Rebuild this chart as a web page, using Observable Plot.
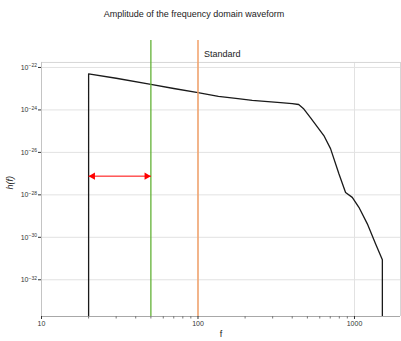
<!DOCTYPE html>
<html><head><meta charset="utf-8">
<script src="https://cdn.jsdelivr.net/npm/d3@7"></script>
<script src="https://cdn.jsdelivr.net/npm/@observablehq/plot@0.6"></script>
<style>
body{margin:0;background:#fff;font-family:"Liberation Sans",Arial,sans-serif;}
#title{position:relative;height:30px;}
#title span{position:absolute;left:0;width:388px;text-align:center;top:10px;font-size:9px;line-height:9px;color:#222;}
#chart svg{display:block;}
</style></head><body>
<div id="title"><span>Amplitude of the frequency domain waveform</span></div>
<div id="chart"></div>
<script>
// waveform amplitude |h(f)|
const freq = [20, 20, 30, 50, 70, 100, 135, 180, 222, 280, 337, 400, 440, 475, 523, 637, 703, 795, 877, 968, 1067, 1208, 1365, 1507, 1507];
const amp  = [1e-34, 5.0e-23, 3.1e-23, 1.6e-23, 1.02e-23, 6.5e-24, 4.3e-24, 3.4e-24, 2.8e-24, 2.45e-24, 2.2e-24, 2.0e-24, 1.8e-24, 1.1e-24, 4.3e-25,
              6.2e-26, 1.5e-26, 9.8e-28, 1.3e-28, 7.6e-29, 2.6e-29, 4.3e-30, 4.8e-31, 8.7e-32, 1e-34];
// marker lines
const lowFreq = 50;        // green line
const standardFreq = 100;  // orange line, "Standard"
const arrowStart = 20, arrowEnd = 50, arrowAmp = 7.6e-28;
const standardLabel = "Standard";
const standardLabelAmp = 4.1e-22;
// ticks
const xMajor = [10, 100, 1000];
const xMinor = [20, 30, 40, 50, 60, 70, 80, 90, 200, 300, 400, 500, 600, 700, 800, 900];
const yTicks = [1e-22, 1e-24, 1e-26, 1e-28, 1e-30, 1e-32];
// scale extents
const xDomain = [10, 1968];
const yDomain = [Math.pow(10, -33.73), Math.pow(10, -20.73)];
const frameTop = Math.pow(10, -21.764);

const fmt = d => "10^" + Math.round(Math.log10(d));

const curve = freq.map((f, i) => ({f, h: amp[i]}));

const chart = Plot.plot({
  width: 401, height: 311,
  marginTop: 10, marginBottom: 25, marginLeft: 41, marginRight: 1,
  style: {fontFamily: "Liberation Sans, Arial, sans-serif", background: "#fff"},
  x: {type: "log", domain: xDomain, axis: null},
  y: {type: "log", domain: yDomain, axis: null},
  marks: [
    Plot.ruleY(yTicks, {stroke: "#e2e2e2", strokeWidth: 1}),
    Plot.ruleX(xMajor, {y1: yDomain[0], y2: frameTop, stroke: "#e2e2e2", strokeWidth: 1}),
    Plot.ruleY([frameTop], {stroke: "#d6d6d6"}),
    Plot.ruleX([xDomain[1]], {y1: yDomain[0], y2: frameTop, stroke: "#d6d6d6"}),
    Plot.ruleX([xDomain[0]], {y1: yDomain[0], y2: frameTop, stroke: "#c4c4c4"}),
    Plot.ruleY([yDomain[0]], {stroke: "#a8a8a8"}),
    Plot.axisY(yTicks, {tickSize: 3, tickPadding: 1.5, tickFormat: fmt, fontSize: 7, color: "#333", label: null}),
    Plot.axisX(xMajor, {tickSize: 3, tickPadding: 1.5, fontSize: 7, color: "#333", tickFormat: d => String(d), label: null}),
    Plot.axisX(xMinor, {tickSize: 2.5, color: "#777", tickFormat: () => "", label: null}),
    Plot.line(curve, {x: "f", y: "h", stroke: "#1a1a1a", strokeWidth: 1.3, clip: true, curve: "linear"}),
    Plot.ruleX([lowFreq], {stroke: "#62b236", strokeWidth: 1.3}),
    Plot.ruleX([standardFreq], {stroke: "#f2a068", strokeWidth: 1.5}),
    Plot.link([{a: arrowStart, b: arrowEnd, h: arrowAmp}], {x1: "a", x2: "b", y1: "h", y2: "h", stroke: "#ff0000", strokeWidth: 1}),
    Plot.dot([arrowStart], {x: d => d, y: () => arrowAmp, symbol: "triangle", r: 2.7, rotate: -90, dx: 4.2, fill: "#ff0000", stroke: "none"}),
    Plot.dot([arrowEnd], {x: d => d, y: () => arrowAmp, symbol: "triangle", r: 2.7, rotate: 90, dx: -4.2, fill: "#ff0000", stroke: "none"}),
    Plot.text([standardLabel], {x: () => standardFreq, y: () => standardLabelAmp, text: d => d, dx: 6, textAnchor: "start", fontSize: 9, fill: "#222"}),
    Plot.text(["h(f)"], {frameAnchor: "left", y: () => Math.sqrt(frameTop * yDomain[0]), text: d => d, rotate: -90, dx: -31, fontSize: 9, fontStyle: "italic", fill: "#222"}),
    Plot.text(["f"], {frameAnchor: "bottom", text: d => d, dy: 20.7, fontSize: 9, fill: "#222"})
  ]
});
document.getElementById("chart").appendChild(chart);
// render exponents as raised superscripts
d3.select(chart).selectAll("text").each(function() {
  const t = this.textContent;
  const m = /^10\^(-?\d+)$/.exec(t);
  if (!m) return;
  const sel = d3.select(this);
  sel.text("10");
  sel.append("tspan").attr("dy", "-0.45em").attr("font-size", "5px").text(m[1].replace("-", "\u2212"));
});
</script>
</body></html>
